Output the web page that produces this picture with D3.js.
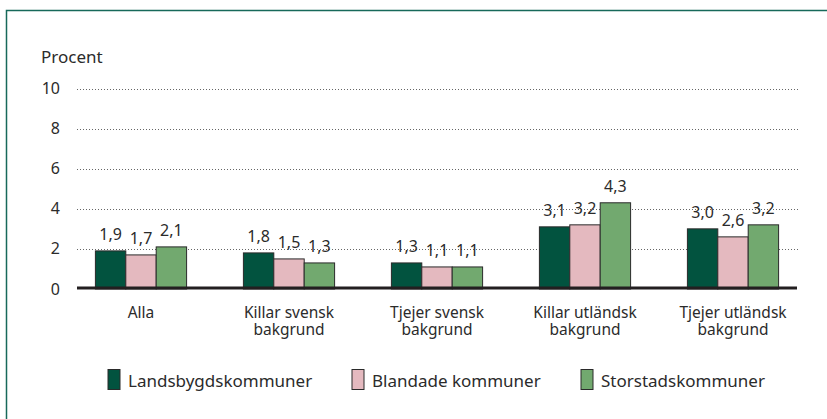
<!DOCTYPE html>
<html>
<head>
<meta charset="utf-8">
<script src="https://cdn.jsdelivr.net/npm/d3@7"></script>
<style>
	body { margin: 0; background: #fff; }
	svg { display: block; font-family: "Noto Sans", "Open Sans", sans-serif; }
</style>
</head>
<body>
<svg id="chart"></svg>
<script>
const categories = [
	['Alla'],
	['Killar svensk', 'bakgrund'],
	['Tjejer svensk', 'bakgrund'],
	['Killar utländsk', 'bakgrund'],
	['Tjejer utländsk', 'bakgrund'],
];
const seriesNames = ['Landsbygdskommuner', 'Blandade kommuner', 'Storstadskommuner'];
const landsbygd = [1.9, 1.8, 1.3, 3.1, 3.0];
const blandade = [1.7, 1.5, 1.1, 3.2, 2.6];
const storstad = [2.1, 1.3, 1.1, 4.3, 3.2];
const yTicks = [0, 2, 4, 6, 8, 10];
const colors = ['#02533f', '#e4b9bf', '#72a96f'];

const width = 827;
const height = 419;
const textColor = '#2b2b2b';

const svg = d3.select('#chart')
	.attr('width', width)
	.attr('height', height);

// frame: only top and left
svg.append('path')
	.attr('d', 'M6.5,419 V10.5 H827')
	.attr('fill', 'none')
	.attr('stroke', '#17695a')
	.attr('stroke-width', 1.5);

const y = d3.scaleLinear().domain([0, 10]).range([289, 88.5]);
const x = d3.scaleBand()
	.domain(d3.range(categories.length))
	.range([67, 807]);
const xInner = d3.scaleBand()
	.domain(d3.range(seriesNames.length))
	.range([0, 91.2]);
const plotLeft = 77;
const plotRight = 800;

// grid
svg.append('g')
	.selectAll('line')
	.data(yTicks.filter(t => t > 0))
	.enter()
	.append('line')
	.attr('x1', plotLeft)
	.attr('x2', plotRight)
	.attr('y1', d => Math.round(y(d)) + 0.5)
	.attr('y2', d => Math.round(y(d)) + 0.5)
	.attr('stroke', '#666')
	.attr('stroke-width', 1)
	.attr('stroke-dasharray', '1,2');

// y tick labels
svg.append('g')
	.selectAll('text')
	.data(yTicks)
	.enter()
	.append('text')
	.attr('x', 60)
	.attr('y', d => y(d) + 5.5)
	.attr('text-anchor', 'end')
	.attr('font-size', 16)
	.attr('fill', textColor)
	.text(d => d);

svg.append('text')
	.attr('x', 41)
	.attr('y', 63)
	.attr('font-size', 17)
	.attr('fill', textColor)
	.text('Procent');

const series = [landsbygd, blandade, storstad];
const groupOffset = (x.bandwidth() - xInner.range()[1]) / 2;

series.forEach((values, s) => {
	const g = svg.append('g');
	g.selectAll('rect')
		.data(values)
		.enter()
		.append('rect')
		.attr('x', (d, i) => x(i) + groupOffset + xInner(s))
		.attr('y', d => y(d))
		.attr('width', xInner.bandwidth())
		.attr('height', d => y(0) - y(d))
		.attr('fill', colors[s])
		.attr('stroke', '#2a2a2a')
		.attr('stroke-width', 1);

	g.selectAll('text')
		.data(values)
		.enter()
		.append('text')
		.attr('x', (d, i) => x(i) + groupOffset + xInner(s) + xInner.bandwidth() / 2)
		.attr('y', d => y(d) - 11)
		.attr('text-anchor', 'middle')
		.attr('font-size', 16)
		.attr('fill', textColor)
		.text(d => String(d.toFixed(1)).replace('.', ','));
});

// baseline
svg.append('line')
	.attr('x1', plotLeft)
	.attr('x2', 797)
	.attr('y1', y(0) - 1)
	.attr('y2', y(0) - 1)
	.attr('stroke', '#231f20')
	.attr('stroke-width', 3);

// category labels
const catText = svg.append('g')
	.selectAll('text')
	.data(categories)
	.enter()
	.append('text')
	.attr('text-anchor', 'middle')
	.attr('font-size', 15.5)
	.attr('fill', textColor);
catText.selectAll('tspan')
	.data((d, i) => d.map(line => ({ line, i })))
	.enter()
	.append('tspan')
	.attr('x', d => x(d.i) + x.bandwidth() / 2)
	.attr('y', (d, j) => 317.5 + j * 17)
	.text(d => d.line);

// legend
const legendX = [108, 352, 581];
const legend = svg.append('g')
	.selectAll('g')
	.data(seriesNames)
	.enter()
	.append('g')
	.attr('transform', (d, i) => `translate(${legendX[i]},369.5)`);
legend.append('rect')
	.attr('width', 12)
	.attr('height', 20)
	.attr('fill', (d, i) => colors[i])
	.attr('stroke', '#2a2a2a')
	.attr('stroke-width', 1);
legend.append('text')
	.attr('x', 20)
	.attr('y', 17)
	.attr('font-size', 17)
	.attr('fill', textColor)
	.text(d => d);
</script>
</body>
</html>
